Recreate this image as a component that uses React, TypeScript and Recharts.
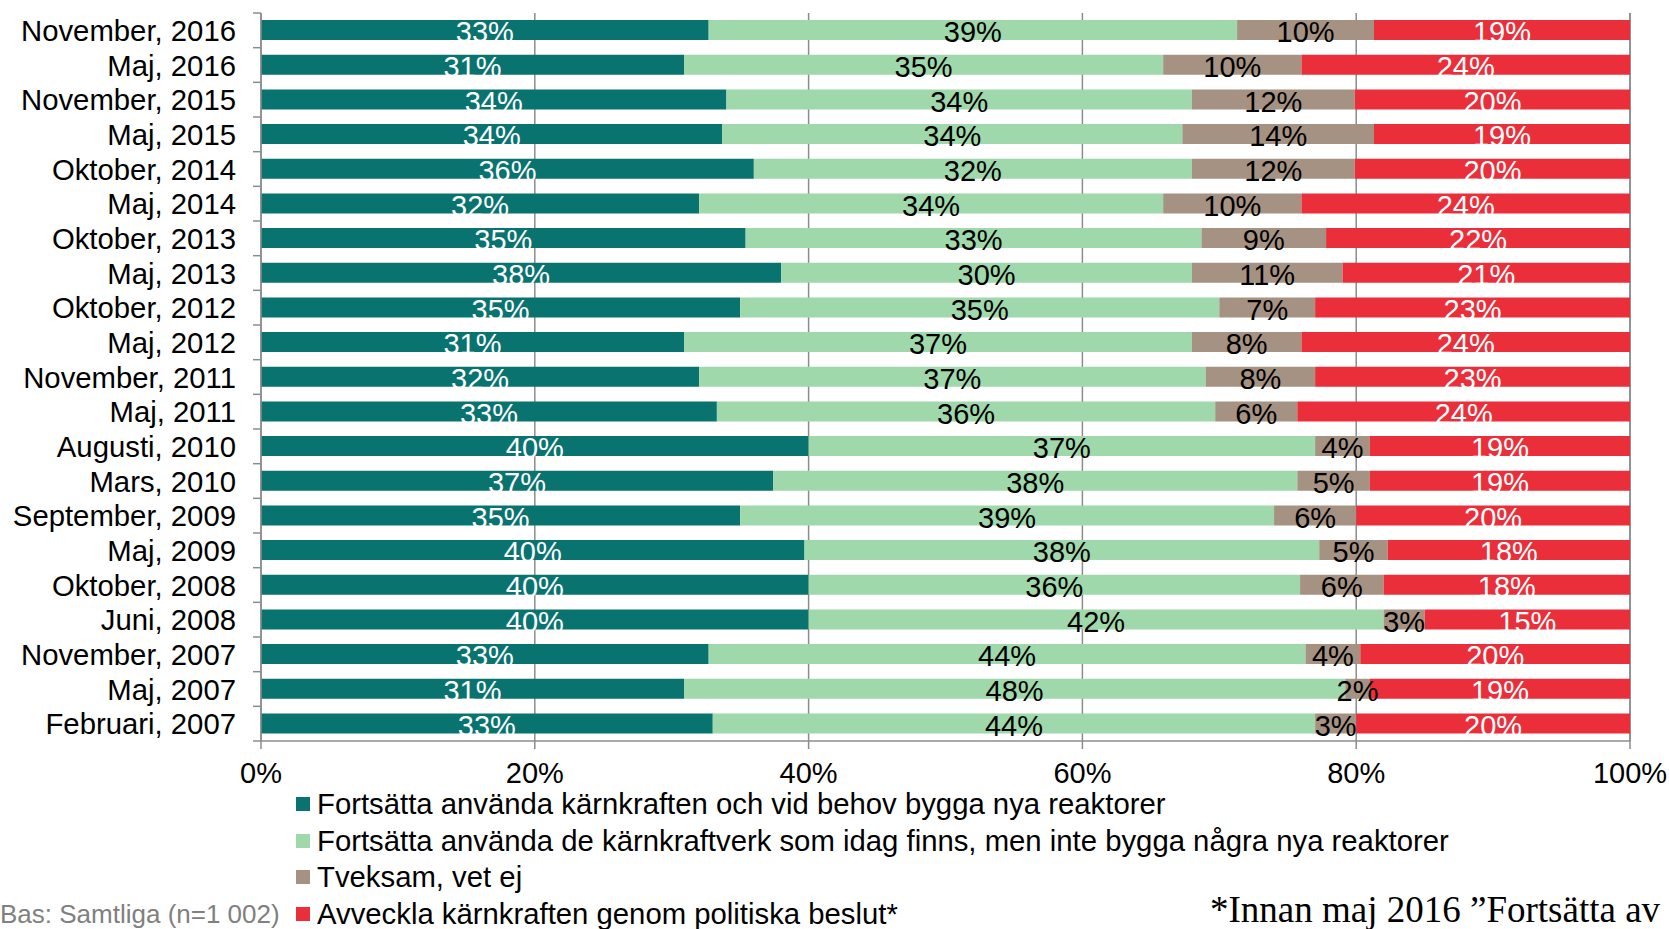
import { BarChart, Bar, XAxis, YAxis, CartesianGrid, LabelList } from "recharts";

const periods = [
  "November, 2016", "Maj, 2016", "November, 2015", "Maj, 2015", "Oktober, 2014",
  "Maj, 2014", "Oktober, 2013", "Maj, 2013", "Oktober, 2012", "Maj, 2012",
  "November, 2011", "Maj, 2011", "Augusti, 2010", "Mars, 2010", "September, 2009",
  "Maj, 2009", "Oktober, 2008", "Juni, 2008", "November, 2007", "Maj, 2007",
  "Februari, 2007",
];

// share of respondents, % (labels show the rounded value)
const keepAndBuild = [32.7, 30.9, 34, 33.7, 36, 32, 35.4, 38, 35, 30.9, 32, 33.3, 40, 37.4, 35, 39.7, 40, 40, 32.7, 30.9, 33];
const keepNoBuild = [38.6, 35, 34, 33.6, 32, 33.9, 33.3, 30, 35, 37.1, 37, 36.4, 37, 38.3, 39, 37.6, 35.9, 42, 43.6, 48.3, 44];
const unsure = [10, 10.1, 11.9, 14, 11.9, 10.1, 9.1, 11, 7, 8, 8, 6, 4, 5.3, 6, 5, 6.1, 3, 4, 1.8, 3];
const phaseOut = [18.7, 24, 20.1, 18.7, 20.1, 24, 22.2, 21, 23, 24, 23, 24.3, 19, 19, 20, 17.7, 18, 15, 19.7, 19, 20];

const xTicks = [0, 20, 40, 60, 80, 100];

const legendItems = [
  { label: "Fortsätta använda kärnkraften och vid behov bygga nya reaktorer", color: "#08736f" },
  { label: "Fortsätta använda de kärnkraftverk som idag finns, men inte bygga några nya reaktorer", color: "#9fd8ab" },
  { label: "Tveksam, vet ej", color: "#a69282" },
  { label: "Avveckla kärnkraften genom politiska beslut*", color: "#ea2e3a" },
];

const data = periods.map((period, i) => ({
  period,
  keepAndBuild: keepAndBuild[i],
  keepNoBuild: keepNoBuild[i],
  unsure: unsure[i],
  phaseOut: phaseOut[i],
}));

const FONT = "'Liberation Sans', Arial, sans-serif";
const AXIS = "#8c8c8c";
const W = 1669;
const H = 800;
const TOP = 13;
const X_AXIS_H = 55;
const BOTTOM = 4;
const Y_W = 261;
const BAND = (H - TOP - X_AXIS_H - BOTTOM) / periods.length;

function CategoryTick(props: any) {
  const { x, y, payload, index } = props;
  const half = BAND / 2;
  return (
    <g>
      <line x1={Y_W - 8} x2={Y_W} y1={y - half} y2={y - half} stroke={AXIS} strokeWidth={1.5} />
      {index === periods.length - 1 ? (
        <line x1={Y_W - 8} x2={Y_W} y1={y + half} y2={y + half} stroke={AXIS} strokeWidth={1.5} />
      ) : null}
      <text x={x} y={y} dy="0.36em" textAnchor="end" fontSize={29.3} fontFamily={FONT} fill="#000">
        {payload.value}
      </text>
    </g>
  );
}

function makeLabel(color: string) {
  return (p: any) => {
    const { x, y, width, height, value } = p;
    return (
      <text
        x={x + width / 2}
        y={y + height / 2}
        dy="0.42em"
        textAnchor="middle"
        fontSize={29}
        fontFamily={FONT}
        fill={color}
      >
        {`${Math.round(value)}%`}
      </text>
    );
  };
}

export default function App() {
  return (
    <div style={{ position: "relative", width: W, height: 929, overflow: "hidden", background: "#fff", fontFamily: FONT }}>
      <style>{`body{margin:0}`}</style>
      <BarChart
        width={W}
        height={H}
        data={data}
        layout="vertical"
        barCategoryGap="20.5%"
        margin={{ top: TOP, right: 39, bottom: BOTTOM, left: 0 }}
      >
        <CartesianGrid horizontal={false} stroke={AXIS} strokeWidth={1.5} />
        <XAxis
          type="number"
          domain={[0, 100]}
          ticks={xTicks}
          tickFormatter={(v) => `${v}%`}
          height={X_AXIS_H}
          stroke={AXIS}
          strokeWidth={1.5}
          tickSize={8}
          tickMargin={13}
          tick={{ fill: "#000", fontSize: 29, fontFamily: FONT }}
        />
        <YAxis
          type="category"
          dataKey="period"
          width={Y_W}
          interval={0}
          stroke={AXIS}
          strokeWidth={1.5}
          tickLine={false}
          tickSize={8}
          tickMargin={17}
          tick={<CategoryTick />}
        />
        <Bar dataKey="keepAndBuild" stackId="a" fill="#08736f" isAnimationActive={false}>
          <LabelList dataKey="keepAndBuild" content={makeLabel("#fff")} />
        </Bar>
        <Bar dataKey="keepNoBuild" stackId="a" fill="#9fd8ab" isAnimationActive={false}>
          <LabelList dataKey="keepNoBuild" content={makeLabel("#000")} />
        </Bar>
        <Bar dataKey="unsure" stackId="a" fill="#a69282" isAnimationActive={false}>
          <LabelList dataKey="unsure" content={makeLabel("#000")} />
        </Bar>
        <Bar dataKey="phaseOut" stackId="a" fill="#ea2e3a" isAnimationActive={false}>
          <LabelList dataKey="phaseOut" content={makeLabel("#fff")} />
        </Bar>
      </BarChart>

      {legendItems.map((item, i) => (
        <div
          key={item.label}
          style={{
            position: "absolute",
            left: 296,
            top: 786 + i * 36.5,
            height: 36,
            display: "flex",
            alignItems: "center",
            fontSize: 29.3,
            whiteSpace: "nowrap",
            color: "#000",
          }}
        >
          <span style={{ width: 14, height: 14, background: item.color, marginRight: 7, display: "inline-block" }} />
          {item.label}
        </div>
      ))}

      <div
        style={{
          position: "absolute",
          left: 0,
          top: 899,
          fontSize: 26,
          color: "#808080",
          whiteSpace: "nowrap",
        }}
      >
        Bas: Samtliga (n=1 002)
      </div>

      <div
        style={{
          position: "absolute",
          left: 1210,
          top: 888,
          fontSize: 37,
          fontFamily: "'Liberation Serif', 'Times New Roman', serif",
          color: "#000",
          whiteSpace: "nowrap",
        }}
      >
        *Innan maj 2016 ”Fortsätta av
      </div>
    </div>
  );
}
